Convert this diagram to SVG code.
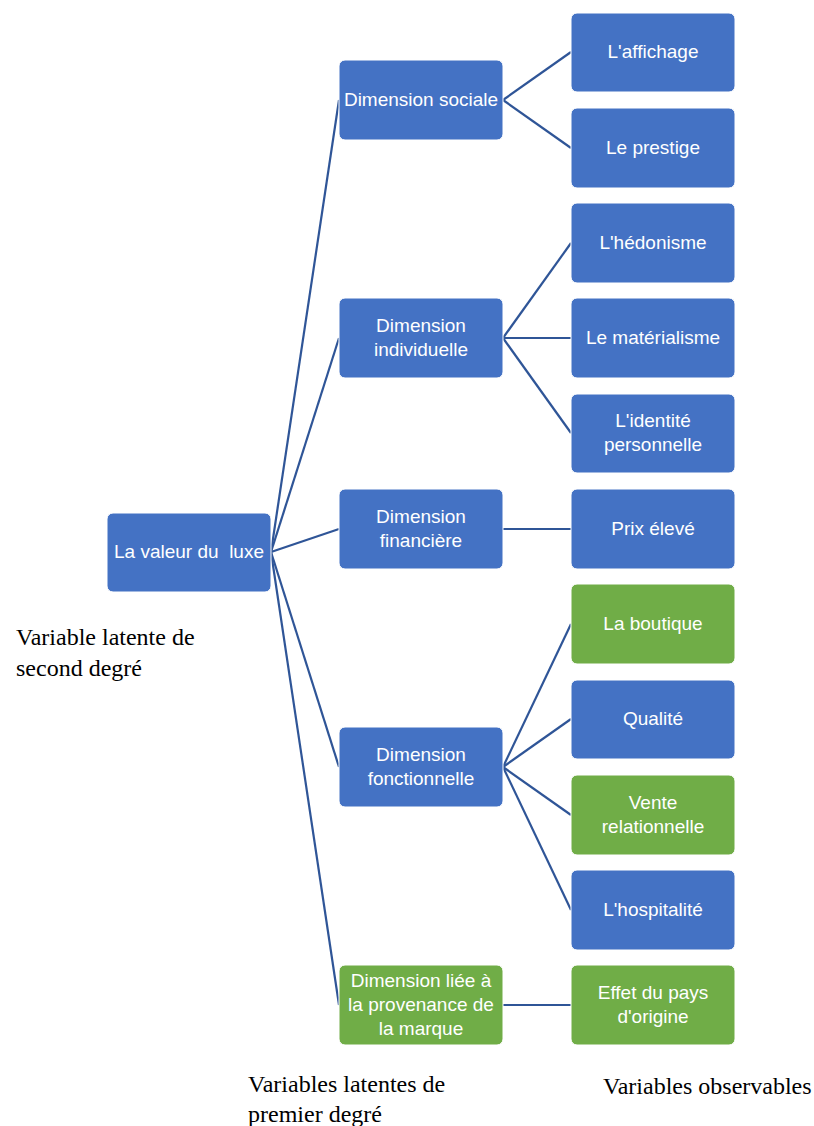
<svg xmlns="http://www.w3.org/2000/svg" width="814" height="1126" viewBox="0 0 814 1126">
<style>
.b{fill:#4472C4;stroke:#ffffff;stroke-width:1}
.g{fill:#70AD47;stroke:#ffffff;stroke-width:1}
.t{fill:#ffffff;font-family:"Liberation Sans",Arial,sans-serif;font-size:19px;text-anchor:middle;white-space:pre}
.c line{stroke:#2F5597;stroke-width:2.2;fill:none}
.l{fill:#000000;font-family:"Liberation Serif","Times New Roman",serif;font-size:24px}
</style>
<rect width="814" height="1126" fill="#ffffff"/>
<g class="c" id="connectors">
<line x1="271" y1="552" x2="339" y2="100"/>
<line x1="271" y1="552" x2="339" y2="338"/>
<line x1="271" y1="552" x2="339" y2="529"/>
<line x1="271" y1="552" x2="339" y2="767"/>
<line x1="271" y1="552" x2="339" y2="1005"/>
<line x1="503" y1="100" x2="571" y2="52"/>
<line x1="503" y1="100" x2="571" y2="148"/>
<line x1="503" y1="338" x2="571" y2="243"/>
<line x1="503" y1="338" x2="571" y2="338"/>
<line x1="503" y1="338" x2="571" y2="433"/>
<line x1="503" y1="529" x2="571" y2="529"/>
<line x1="503" y1="767" x2="571" y2="624"/>
<line x1="503" y1="767" x2="571" y2="719"/>
<line x1="503" y1="767" x2="571" y2="815"/>
<line x1="503" y1="767" x2="571" y2="910"/>
<line x1="503" y1="1005" x2="571" y2="1005"/>
</g>
<g id="root"><rect class="b" x="107" y="513" width="164" height="79" rx="6"/><text class="t" x="189" y="558" xml:space="preserve">La valeur du  luxe</text></g>
<g id="m1"><rect class="b" x="339" y="60" width="164" height="80" rx="6"/><text class="t" x="421" y="106">Dimension sociale</text></g>
<g id="m2"><rect class="b" x="339" y="298" width="164" height="80" rx="6"/><text class="t" x="421" y="332">Dimension</text><text class="t" x="421" y="356">individuelle</text></g>
<g id="m3"><rect class="b" x="339" y="489" width="164" height="80" rx="6"/><text class="t" x="421" y="523">Dimension</text><text class="t" x="421" y="547">financière</text></g>
<g id="m4"><rect class="b" x="339" y="727" width="164" height="80" rx="6"/><text class="t" x="421" y="761">Dimension</text><text class="t" x="421" y="785">fonctionnelle</text></g>
<g id="m5"><rect class="g" x="339" y="965" width="164" height="80" rx="6"/><text class="t" x="421" y="987">Dimension liée à</text><text class="t" x="421" y="1011">la provenance de</text><text class="t" x="421" y="1035">la marque</text></g>
<g id="r1"><rect class="b" x="571" y="13" width="164" height="79" rx="6"/><text class="t" x="653" y="58">L'affichage</text></g>
<g id="r2"><rect class="b" x="571" y="108" width="164" height="80" rx="6"/><text class="t" x="653" y="154">Le prestige</text></g>
<g id="r3"><rect class="b" x="571" y="203" width="164" height="80" rx="6"/><text class="t" x="653" y="249">L'hédonisme</text></g>
<g id="r4"><rect class="b" x="571" y="298" width="164" height="80" rx="6"/><text class="t" x="653" y="344">Le matérialisme</text></g>
<g id="r5"><rect class="b" x="571" y="394" width="164" height="79" rx="6"/><text class="t" x="653" y="427">L'identité</text><text class="t" x="653" y="451">personnelle</text></g>
<g id="r6"><rect class="b" x="571" y="489" width="164" height="80" rx="6"/><text class="t" x="653" y="535">Prix élevé</text></g>
<g id="r7"><rect class="g" x="571" y="584" width="164" height="80" rx="6"/><text class="t" x="653" y="630">La boutique</text></g>
<g id="r8"><rect class="b" x="571" y="680" width="164" height="79" rx="6"/><text class="t" x="653" y="725">Qualité</text></g>
<g id="r9"><rect class="g" x="571" y="775" width="164" height="80" rx="6"/><text class="t" x="653" y="809">Vente</text><text class="t" x="653" y="833">relationnelle</text></g>
<g id="r10"><rect class="b" x="571" y="870" width="164" height="80" rx="6"/><text class="t" x="653" y="916">L'hospitalité</text></g>
<g id="r11"><rect class="g" x="571" y="965" width="164" height="80" rx="6"/><text class="t" x="653" y="999">Effet du pays</text><text class="t" x="653" y="1023">d'origine</text></g>
<g id="labels">
<text class="l" x="16" y="645">Variable latente de</text>
<text class="l" x="16" y="676">second degré</text>
<text class="l" x="248" y="1092">Variables latentes de</text>
<text class="l" x="248" y="1122">premier degré</text>
<text class="l" x="603" y="1094">Variables observables</text>
</g>
</svg>
